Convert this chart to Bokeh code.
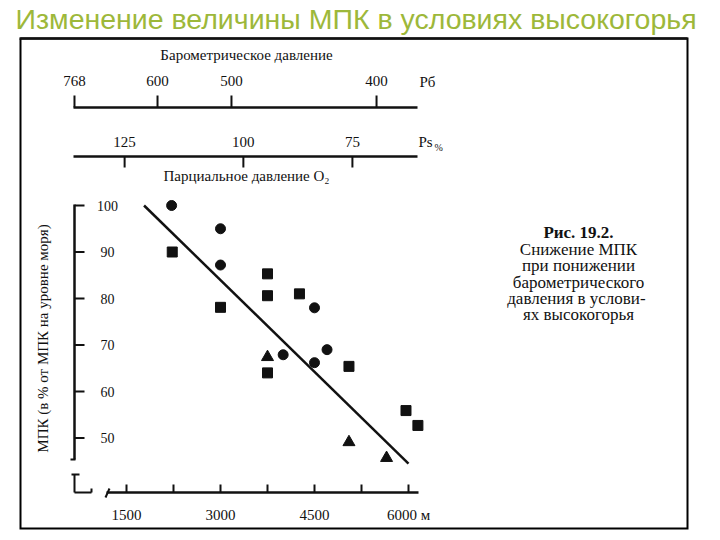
import numpy as np
from bokeh.plotting import figure
from bokeh.models import Range1d
from bokeh.embed import file_html
from bokeh.resources import INLINE
from bokeh.core.properties import value

# ---------------- data ----------------
TITLE = "Изменение величины МПК в условиях высокогорья"

# altitude axis (m)
alt_ticks = [1500, 2250, 3000, 3750, 4500, 5250, 6000]
alt_labels = ["1500", "", "3000", "", "4500", "", "6000 м"]

# МПК axis (% of sea-level value)
mpk_ticks = [100, 90, 80, 70, 60, 50]
mpk_labels = ["100", "90", "80", "70", "60", "50"]

# barometric pressure scale (mm Hg) and the altitude each tick sits over
baro_labels = ["768", "600", "500", "400"]
baro_alt = [670, 1995, 3175, 5490]

# partial pressure of O2 scale and the altitude each tick sits over
po2_labels = ["125", "100", "75"]
po2_alt = [1470, 3365, 5105]

# observations
circle_alt = [2220, 3000, 3000, 4000, 4500, 4500, 4700]
circle_mpk = [100, 95, 87.2, 67.9, 78, 66.2, 69]

square_alt = [2230, 3000, 3750, 3750, 3750, 4260, 5050, 5960, 6150]
square_mpk = [90, 78.1, 85.3, 80.6, 64, 81, 65.4, 55.9, 52.7]

triangle_alt = [3750, 5050, 5650]
triangle_mpk = [67.4, 49.1, 45.7]

# regression line
trend_alt = [1780, 6000]
trend_mpk = [100, 44.5]

CAPTION_HEAD = "Рис. 19.2."
CAPTION = ["Снижение МПК", "при понижении", "барометрического",
           "давления  в услови-", "ях высокогорья"]

# ---------------- layout helpers (picture pixels -> data) ----------------
PX0, M0, MPP = 126.0, 1500.0, 1500.0 / 94.0
PY0, V0, VPP = 205.0, 100.0, 10.0 / 46.5


def dx(px):
    return M0 + (px - PX0) * MPP


def dy(py):
    return V0 - (py - PY0) * VPP


W, H = 720, 540
p = figure(width=W, height=H, output_backend="svg", toolbar_location=None,
           x_range=Range1d(dx(0), dx(W)), y_range=Range1d(dy(H), dy(0)),
           x_axis_location=None, y_axis_location=None, min_border=0,
           outline_line_color=None, background_fill_color="white",
           border_fill_color="white")
p.xgrid.visible = False
p.ygrid.visible = False

SERIF = value("Liberation Serif")
INK = "#111111"

# title
p.text(x=[dx(15)], y=[dy(18)], text=[TITLE], text_font=value("Liberation Sans"),
       text_font_size="28.5px", text_color="#9db83a", text_align="left",
       text_baseline="middle")

# scanned-figure frame as one closed path
p.line(x=[dx(20), dx(687), dx(687), dx(20), dx(20)],
       y=[dy(38), dy(38), dy(528), dy(528), dy(38)],
       line_color="#000000", line_width=2, line_join="miter")
p.segment(x0=[dx(19)], y0=[dy(38)], x1=[dx(687)], y1=[dy(38)],
          line_color=INK, line_width=2.5)

# ---- barometric pressure scale ----
p.text(x=[dx(246)], y=[dy(54)], text=["Барометрическое давление"], text_font=SERIF,
       text_font_size="15px", text_color=INK, text_align="center", text_baseline="middle")
p.segment(x0=[dx(73)], y0=[dy(107)], x1=[dx(417)], y1=[dy(107)],
          line_color=INK, line_width=2.5)
p.segment(x0=baro_alt, y0=[dy(107)] * len(baro_alt), x1=baro_alt,
          y1=[dy(95)] * len(baro_alt), line_color=INK, line_width=2)
p.text(x=baro_alt, y=[dy(80)] * len(baro_alt), text=baro_labels, text_font=SERIF,
       text_font_size="15px", text_color=INK, text_align="center", text_baseline="middle")
p.text(x=[dx(419)], y=[dy(81)], text=["Рб"], text_font=SERIF, text_font_size="15px",
       text_color=INK, text_align="left", text_baseline="middle")

# ---- partial pressure scale ----
p.segment(x0=[dx(73)], y0=[dy(156)], x1=[dx(417)], y1=[dy(156)],
          line_color=INK, line_width=2.5)
p.segment(x0=po2_alt, y0=[dy(156)] * len(po2_alt), x1=po2_alt,
          y1=[dy(167)] * len(po2_alt), line_color=INK, line_width=2)
p.text(x=po2_alt, y=[dy(141)] * len(po2_alt), text=po2_labels, text_font=SERIF,
       text_font_size="15px", text_color=INK, text_align="center", text_baseline="middle")
p.text(x=[dx(418)], y=[dy(141)], text=["Рs"], text_font=SERIF, text_font_size="15px",
       text_color=INK, text_align="left", text_baseline="middle")
p.text(x=[dx(434)], y=[dy(147)], text=["%"], text_font=SERIF, text_font_size="10px",
       text_color=INK, text_align="left", text_baseline="middle")
p.text(x=[dx(246)], y=[dy(175)], text=["Парциальное давление O₂"], text_font=SERIF,
       text_font_size="15px", text_color=INK, text_align="center", text_baseline="middle")

# ---- МПК axis ----
p.segment(x0=[dx(74)], y0=[dy(204)], x1=[dx(74)], y1=[dy(459)],
          line_color=INK, line_width=2.5)
p.segment(x0=[dx(70)], y0=[dy(459)], x1=[dx(75)], y1=[dy(459)],
          line_color=INK, line_width=2)
p.segment(x0=[dx(74)] * len(mpk_ticks), y0=mpk_ticks, x1=[dx(84)] * len(mpk_ticks),
          y1=mpk_ticks, line_color=INK, line_width=2)
p.text(x=[dx(107)] * len(mpk_ticks), y=mpk_ticks, text=mpk_labels, text_font=SERIF,
       text_font_size="14px", text_color=INK, text_align="center", text_baseline="middle")
p.text(x=[dx(42)], y=[dy(338)], text=["МПК (в % от МПК на уровне моря)"],
       angle=np.pi / 2, text_font=SERIF, text_font_size="15px", text_color=INK,
       text_align="center", text_baseline="middle")

# ---- broken axis corner ----
p.segment(x0=[dx(71), dx(74), dx(74), dx(91), dx(105)],
          y0=[dy(474), dy(474), dy(492), dy(492), dy(497)],
          x1=[dx(79), dx(74), dx(91), dx(91), dx(109)],
          y1=[dy(474), dy(492), dy(492), dy(488), dy(488)],
          line_color=INK, line_width=2)

# ---- altitude axis ----
p.segment(x0=[dx(106)], y0=[dy(492)], x1=[dx(418)], y1=[dy(492)],
          line_color=INK, line_width=2.5)
p.segment(x0=alt_ticks, y0=[dy(492)] * len(alt_ticks), x1=alt_ticks,
          y1=[dy(484)] * len(alt_ticks), line_color=INK, line_width=2)
p.text(x=alt_ticks, y=[dy(514)] * len(alt_ticks), text=alt_labels, text_font=SERIF,
       text_font_size="15px", text_color=INK, text_align="center", text_baseline="middle")

# ---- data ----
p.line(trend_alt, trend_mpk, line_color=INK, line_width=2.5)
p.scatter(circle_alt, circle_mpk, marker="circle", size=10, color=INK)
p.scatter(square_alt, square_mpk, marker="square", size=10, color=INK)
p.scatter(triangle_alt, triangle_mpk, marker="triangle", size=12, color=INK)

# ---- caption ----
p.text(x=[dx(578)], y=[dy(232)], text=[CAPTION_HEAD], text_font=SERIF,
       text_font_size="17px", text_font_style="bold", text_color=INK,
       text_align="center", text_baseline="middle")
cap_y = [dy(249 + 16.3 * i) for i in range(len(CAPTION))]
p.text(x=[dx(578)] * len(CAPTION), y=cap_y, text=CAPTION, text_font=SERIF,
       text_font_size="17px", text_color=INK, text_align="center", text_baseline="middle")

open("out.html", "w").write(file_html(p, INLINE))
